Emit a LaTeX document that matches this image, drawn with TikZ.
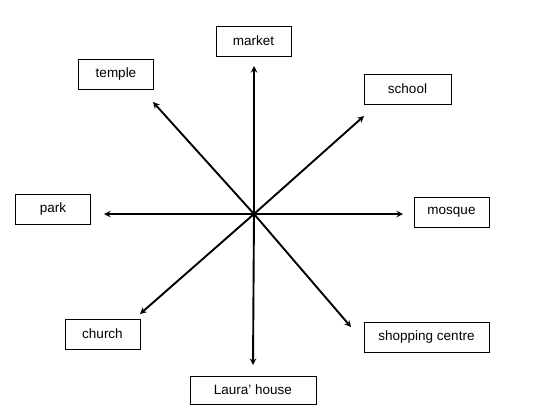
\documentclass[tikz,border=0pt]{standalone}
\usepackage{fontspec}
\setmainfont{Liberation Sans}
\begin{document}
\begin{tikzpicture}[x=1pt, y=-1pt, line width=1.9pt,
    place/.style={rectangle, draw, line width=1pt, minimum width=75pt, minimum height=30pt, font=\fontsize{13.5}{15}\selectfont},
    way/.style={-stealth}]
    \useasboundingbox (0,0) rectangle (541,415);

    
    \node (market) at (253.5,41) [place] {market};
    \node (temple) at (116,74) [place] {temple};
    \node (school) at (407.5,89) [place, minimum width=87pt] {school};
    \node (park) at (53,209.5) [place] {park};
    \node (mosque) at (451.5,212) [place] {mosque};
    \node (church) at (102.5,334) [place] {church};
    \node (shop) at (426.5,337) [place, minimum width=125pt] {shopping centre};
    \node (laura) at (253,390) [place, minimum width=126pt, minimum height=28pt] {Laura' house};

    
    \coordinate (o) at (254,214);
    \coordinate (toMarket) at (254,66);
    \coordinate (toTemple) at (153,102);
    \coordinate (toSchool) at (364,116);
    \coordinate (toPark) at (104,214);
    \coordinate (toMosque) at (403,214);
    \coordinate (toChurch) at (140,314);
    \coordinate (toShop) at (351,327);
    \coordinate (toLaura) at (253,365);

    \draw[way] (o) -- (toMarket);
    \draw[way] (o) -- (toTemple);
    \draw[way] (o) -- (toSchool);
    \draw[way] (o) -- (toPark);
    \draw[way] (o) -- (toMosque);
    \draw[way] (o) -- (toChurch);
    \draw[way] (o) -- (toShop);
    \draw[way] (o) -- (toLaura);

\end{tikzpicture}
\end{document}
